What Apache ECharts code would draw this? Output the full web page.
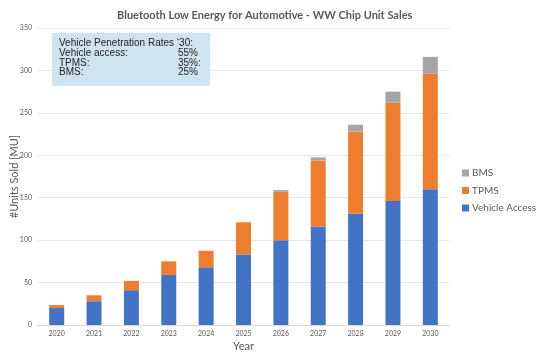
<!DOCTYPE html>
<html>
<head>
<meta charset="utf-8">
<script src="https://cdn.jsdelivr.net/npm/echarts@6/dist/echarts.min.js"></script>
<style>
  html, body { margin: 0; padding: 0; background: #fff; }
  #chart { width: 536px; height: 354px; }
</style>
</head>
<body>
<div id="chart"></div>
<script>
const years = ['2020', '2021', '2022', '2023', '2024', '2025', '2026', '2027', '2028', '2029', '2030'];
const vehicleAccess = [20, 28, 41, 59, 68, 83, 100, 116, 131, 146, 160];
const tpms = [3.5, 7, 11, 16, 19.5, 38, 57, 78, 97, 116, 136];
const bms = [0, 0, 0, 0, 0, 0, 2, 3.5, 8, 13, 20];
const noteLabels = ['Vehicle Penetration Rates \u201830:', 'Vehicle access:', 'TPMS:', 'BMS:'];
const noteRates = ['', '55%', '35%:', '25%'];

const chart = echarts.init(document.getElementById('chart'));
const font = 'Lato, sans-serif';
const noteStyle = { fill: '#222', fontFamily: '"Liberation Sans", Arial, sans-serif', fontSize: 10, lineHeight: 9.7 };

chart.setOption({
  animation: false,
  color: ['#4472C4', '#ED7D31', '#A5A5A5'],
  title: {
    text: 'Bluetooth Low Energy for Automotive - WW Chip Unit Sales',
    left: 112, top: 5,
    textStyle: { fontFamily: font, fontSize: 11, fontWeight: 'bold', color: '#595959' }
  },
  legend: {
    orient: 'vertical', left: 457, top: 163, itemGap: 7.5,
    itemWidth: 7, itemHeight: 7, icon: 'rect',
    data: ['BMS', 'TPMS', 'Vehicle Access'],
    textStyle: { fontFamily: font, fontSize: 10, color: '#595959', padding: [0, 0, 0, -2] }
  },
  grid: { left: 38, right: 87, top: 28, bottom: 29, outerBoundsMode: 'none', containLabel: false },
  xAxis: {
    type: 'category', data: years,
    name: 'Year', nameLocation: 'middle', nameGap: 16, nameMoveOverlap: false,
    nameTextStyle: { fontFamily: font, fontSize: 11, color: '#595959' },
    axisLine: { lineStyle: { color: '#d9d9d9' } },
    axisTick: { show: false },
    axisLabel: { fontFamily: font, fontSize: 7, color: '#595959', margin: 5 }
  },
  yAxis: {
    type: 'value', min: 0, max: 350, interval: 50,
    name: '#Units Sold [MU]', nameLocation: 'middle', nameGap: 18, nameRotate: 90, nameMoveOverlap: false,
    nameTextStyle: { fontFamily: font, fontSize: 11, color: '#595959' },
    axisLine: { show: false }, axisTick: { show: false },
    axisLabel: { fontFamily: font, fontSize: 7, color: '#595959', margin: 6 },
    splitLine: { lineStyle: { color: '#e6e6e6' } }
  },
  graphic: [
    { type: 'rect', z: 100, shape: { x: 52, y: 33, width: 158, height: 53 }, style: { fill: '#cfe3f1' } },
    { type: 'text', z: 101, style: Object.assign({ x: 59, y: 38.5, text: noteLabels.join('\n') }, noteStyle) },
    { type: 'text', z: 101, style: Object.assign({ x: 178, y: 38.5, text: noteRates.join('\n') }, noteStyle) }
  ],
  series: [
    { name: 'Vehicle Access', type: 'bar', stack: 'u', barWidth: 15, data: vehicleAccess },
    { name: 'TPMS', type: 'bar', stack: 'u', barWidth: 15, data: tpms },
    { name: 'BMS', type: 'bar', stack: 'u', barWidth: 15, data: bms }
  ]
});
</script>
</body>
</html>
